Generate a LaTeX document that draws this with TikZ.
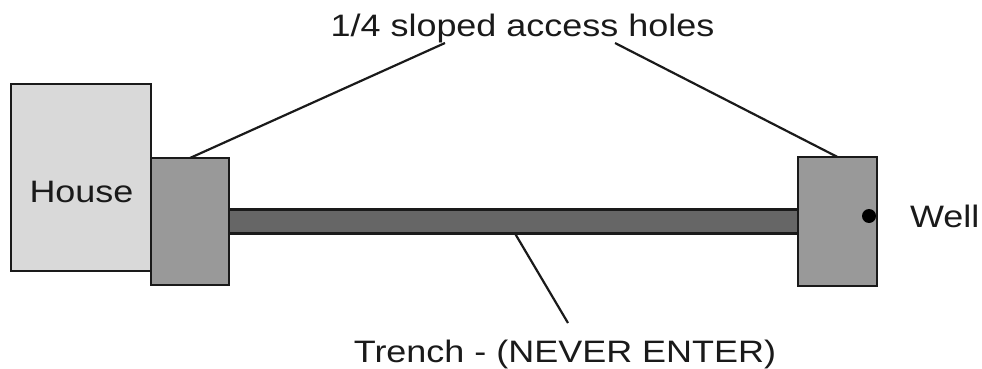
\documentclass[tikz,border=0pt]{standalone}
\usepackage{fontspec}
\setmainfont{Liberation Sans}[FakeStretch=1.16]
\definecolor{edge}{HTML}{1A1A1A}
\definecolor{housefill}{HTML}{D9D9D9}
\definecolor{holefill}{HTML}{999999}
\definecolor{trenchfill}{HTML}{666666}
\begin{document}
\begin{tikzpicture}[x=1pt,y=-1pt,
  box/.style={draw=edge, line width=2.2pt, inner sep=0pt, outer sep=0pt, rectangle},
  lbl/.style={inner sep=0pt, outer sep=0pt, anchor=base, font=\fontsize{31}{36}\selectfont, text=edge},
  leader/.style={draw=edge, line width=2.2pt}]
\useasboundingbox (0,0) rectangle (982,369);
\node[box, fill=housefill, minimum width=140pt, minimum height=187pt] (house) at (81,177.5) {};
\node[box, fill=holefill, minimum width=78pt, minimum height=127pt] (lbox) at (190,221.5) {};
\node[box, fill=trenchfill, minimum width=569pt, minimum height=24pt] (trench) at (513.5,221.5) {};
\node[box, fill=holefill, minimum width=79pt, minimum height=129pt] (rbox) at (837.5,221.5) {};
\node[circle, fill=black, inner sep=0pt, minimum width=14pt, minimum height=13pt] (dot) at (869,216) {};
\node[lbl] (houselbl) at (81.5,202) {House};
\node[lbl, anchor=base west] (welllbl) at (910,227) {Well};
\node[lbl] (holeslbl) at (522.5,37) {1/4 sloped access holes};
\node[lbl] (trenchlbl) at (565,362) {Trench - (NEVER ENTER)};
\coordinate (ltop) at (445,43);
\coordinate (rtop) at (615,43);
\coordinate (tstart) at (515,233.5);
\coordinate (tbot) at (568,323);
\draw[leader] (lbox.north) -- (ltop);
\draw[leader] (rbox.north) -- (rtop);
\draw[leader] (tstart) -- (tbot);
\end{tikzpicture}
\end{document}
